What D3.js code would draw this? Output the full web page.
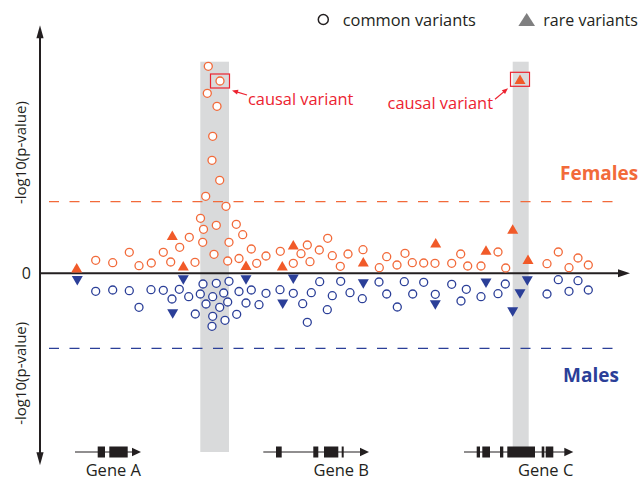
<!DOCTYPE html>
<html>
<head>
<meta charset="utf-8">
<script src="https://cdn.jsdelivr.net/npm/d3@7"></script>
<style>
  body { margin: 0; background: #fff; }
  text { font-family: "Open Sans", sans-serif; }
</style>
</head>
<body>
<div id="container"></div>
<script>
// [position (kb), -log10(p)]
const femalesCommon = [
  [168.3, 20.7], [167.3, 18.0], [177, 16.7], [172.7, 13.7], [172, 11.3], [179.7, 9.3],
  [165.7, 7.7], [186, 6.7], [160.5, 5.5], [176.3, 4.8], [196.3, 4.9], [163.5, 4.4],
  [149.3, 3.6], [162.7, 3.1], [189, 3.1], [139.7, 2.6], [89.3, 2.1], [123.3, 2.1],
  [174, 1.9], [55.7, 1.3], [72.7, 1.06], [130.7, 1.13], [111.3, 1.03], [99, 0.76],
  [155, 1.1], [187.7, 1.23], [199, 1.48], [202.7, 3.86], [211.3, 2.43], [216.7, 1.0],
  [226, 1.73], [240.3, 2.2], [253.3, 1.0], [261, 1.96], [267.3, 2.83], [270, 1.16],
  [279.3, 2.33], [287.7, 3.5], [292.3, 1.76], [300.3, 0.7], [308, 1.93], [323, 2.36],
  [339.3, 0.56], [346.7, 1.66], [357, 0.83], [365, 2.0], [372.3, 1.06], [383.7, 1.03],
  [395, 1.0], [411.7, 1.0], [420.7, 1.93], [427.7, 0.73], [441, 0.73], [458, 2.13],
  [465.7, 0.53], [507, 0.96], [518.3, 2.13], [529, 0.56], [538, 1.53], [548.3, 0.83]
];
const femalesRare = [
  [36.7, 0.56], [132.3, 3.8], [143.3, 0.76], [206, 0.8], [242.3, 0.76], [253.3, 2.86],
  [323.3, 1.16], [395.7, 3.06], [446, 2.33], [472.7, 4.43], [488, 1.4]
];
const malesCommon = [
  [55.7, 1.8], [72.7, 1.67], [89.3, 1.74], [111, 1.64], [123.3, 1.7], [139.3, 1.6],
  [132, 2.57], [99, 3.4], [148.7, 2.34], [155.3, 4.07], [163, 1.07], [160.3, 2.07],
  [176.3, 1.0], [189, 0.8], [172.7, 2.34], [183.7, 1.97], [187.7, 2.87], [166, 3.07],
  [179.7, 3.4], [172.7, 4.3], [185, 4.7], [172, 5.3], [196.7, 4.1], [199, 1.82],
  [211.3, 1.67], [206, 2.97], [219, 3.14], [226, 2.0], [240, 1.64], [253.3, 2.0],
  [262.7, 3.04], [271.3, 1.94], [267.3, 4.9], [279.7, 0.84], [287.3, 3.64], [292.3, 2.24],
  [300.7, 0.8], [310, 1.94], [322.3, 2.54], [339, 0.87], [346.7, 2.07], [357.3, 3.37],
  [364.3, 0.84], [372.7, 2.07], [383.7, 0.9], [395.3, 2.1], [411.7, 1.1], [421, 2.77],
  [426.3, 1.6], [441, 2.34], [458, 2.04], [465.3, 1.07], [507, 2.07], [518.3, 0.64],
  [529, 1.8], [538, 0.74], [548.3, 1.67]
];
const malesRare = [
  [37.3, 0.74], [143.3, 0.67], [132.7, 4.07], [206, 0.67], [253.3, 0.6], [242.7, 3.1],
  [323.3, 1.07], [395.3, 3.17], [446, 1.0], [480, 2.07], [487.3, 0.77], [472.7, 3.87]
];
// causal variants (females)
const causalCommon = [180, 19.23];
const causalRare = [480, 19.4];

const femaleThreshold = 7.16;
const maleThreshold = 7.5;

// highlighted regions [start, end] kb
const regions = [[160.3, 189], [472.7, 488.7]];

// genes: span [start, end], exons
const geneNames = ["Gene A", "Gene B", "Gene C"];
const geneSpans = [[35, 101], [223.3, 329], [424, 533.3]];
const geneExons = [
  [[57.7, 65], [69.3, 87.7]],
  [[236, 241.7], [273.3, 278.3], [284, 298.3], [301.7, 303.7]],
  [[436.7, 440], [442.3, 450], [460, 463.3], [467.3, 495], [501.7, 504.3], [505.7, 513.3]]
];

const w = 639;
const h = 481;
const orange = "#f26a3a";
const orangeFill = "#f15a29";
const blue = "#2b3f98";
const red = "#ec2330";
const ink = "#231f20";

const xScale = d3.scaleLinear().domain([0, 590]).range([40, 630]);
const yScale = d3.scaleLinear().domain([-19.2, 24.8]).range([465.3, 25.3]);

const svg = d3.select("#container")
  .append("svg")
  .attr("width", w)
  .attr("height", h);

function tri(cx, cy, up, hw = 5.5, th = 9.5) {
  const s = up ? 1 : -1;
  return `M${cx},${cy - s * th / 2}L${cx + hw},${cy + s * th / 2}L${cx - hw},${cy + s * th / 2}Z`;
}

// grey bands
svg.selectAll("rect.band")
  .data(regions)
  .enter()
  .append("rect")
  .attr("class", "band")
  .attr("x", d => xScale(d[0]))
  .attr("width", d => xScale(d[1]) - xScale(d[0]))
  .attr("y", 61.7)
  .attr("height", 452 - 61.7)
  .attr("fill", "#d9dadb");

// threshold lines
svg.append("line")
  .attr("x1", xScale(9)).attr("x2", xScale(573))
  .attr("y1", yScale(femaleThreshold)).attr("y2", yScale(femaleThreshold))
  .attr("stroke", orange).attr("stroke-width", 1.2)
  .attr("stroke-dasharray", "10,10.5");
svg.append("line")
  .attr("x1", xScale(9)).attr("x2", xScale(573))
  .attr("y1", yScale(-maleThreshold)).attr("y2", yScale(-maleThreshold))
  .attr("stroke", blue).attr("stroke-width", 1.2)
  .attr("stroke-dasharray", "10,10.5");

// axes
const x0 = xScale(0);
const yTop = yScale(24.8);
const yBot = yScale(-19.2);
const y0 = yScale(0);
svg.append("line")
  .attr("x1", x0).attr("x2", x0)
  .attr("y1", yTop + 8).attr("y2", yBot - 8)
  .attr("stroke", ink).attr("stroke-width", 2);
svg.append("path").attr("d", `M${x0},${yTop}L${x0 + 3.6},${yTop + 13}L${x0 - 3.6},${yTop + 13}Z`).attr("fill", ink);
svg.append("path").attr("d", `M${x0},${yBot}L${x0 + 3.6},${yBot - 13}L${x0 - 3.6},${yBot - 13}Z`).attr("fill", ink);
svg.append("line")
  .attr("x1", x0).attr("x2", xScale(580))
  .attr("y1", y0).attr("y2", y0)
  .attr("stroke", ink).attr("stroke-width", 2);
svg.append("path").attr("d", `M${xScale(590)},${y0}L${xScale(578)},${y0 - 4}L${xScale(578)},${y0 + 4}Z`).attr("fill", ink);

const yAxis = svg.append("g")
  .attr("transform", `translate(${x0 - 6},0)`)
  .call(d3.axisLeft(yScale).tickValues([0]).tickSize(0));
yAxis.select(".domain").remove();
yAxis.selectAll("text")
  .attr("font-family", "Open Sans, sans-serif")
  .attr("font-size", 16)
  .attr("fill", ink);

svg.selectAll("text.ylab")
  .data([12.07, -10.0])
  .enter()
  .append("text")
  .attr("class", "ylab")
  .attr("transform", d => `translate(26,${yScale(d)}) rotate(-90)`)
  .attr("text-anchor", "middle")
  .attr("font-size", 15)
  .attr("fill", ink)
  .text("-log10(p-value)");

// points
svg.selectAll("circle.fc")
  .data(femalesCommon.concat([causalCommon]))
  .enter()
  .append("circle")
  .attr("class", "fc")
  .attr("cx", d => xScale(d[0]))
  .attr("cy", d => yScale(d[1]))
  .attr("r", 4)
  .attr("fill", "#fff")
  .attr("stroke", orange)
  .attr("stroke-width", 1.3);

svg.selectAll("circle.mc")
  .data(malesCommon)
  .enter()
  .append("circle")
  .attr("class", "mc")
  .attr("cx", d => xScale(d[0]))
  .attr("cy", d => yScale(-d[1]))
  .attr("r", 4)
  .attr("fill", "#fff")
  .attr("stroke", blue)
  .attr("stroke-width", 1.3);

svg.selectAll("path.fr")
  .data(femalesRare.concat([causalRare]))
  .enter()
  .append("path")
  .attr("class", "fr")
  .attr("d", d => tri(xScale(d[0]), yScale(d[1]), true))
  .attr("fill", orangeFill);

svg.selectAll("path.mr")
  .data(malesRare)
  .enter()
  .append("path")
  .attr("class", "mr")
  .attr("d", d => tri(xScale(d[0]), yScale(-d[1]), false))
  .attr("fill", blue);

// causal annotations
[causalCommon, causalRare].forEach((c, i) => {
  const cx = xScale(c[0]);
  const cy = yScale(c[1]);
  svg.append("rect")
    .attr("x", cx - 9.5).attr("y", cy - 7)
    .attr("width", 19).attr("height", 14)
    .attr("fill", "none")
    .attr("stroke", red).attr("stroke-width", 1.2);
  const tail = i === 0 ? [cx + 27, cy + 14] : [cx - 25, cy + 20];
  const head = i === 0 ? [cx + 12, cy + 9.5] : [cx - 12, cy + 9];
  const ang = Math.atan2(head[1] - tail[1], head[0] - tail[0]);
  svg.append("line")
    .attr("x1", tail[0]).attr("y1", tail[1])
    .attr("x2", head[0] - 4 * Math.cos(ang)).attr("y2", head[1] - 4 * Math.sin(ang))
    .attr("stroke", red).attr("stroke-width", 1.2);
  const p1 = [head[0] - 6 * Math.cos(ang) + 2.5 * Math.sin(ang), head[1] - 6 * Math.sin(ang) - 2.5 * Math.cos(ang)];
  const p2 = [head[0] - 6 * Math.cos(ang) - 2.5 * Math.sin(ang), head[1] - 6 * Math.sin(ang) + 2.5 * Math.cos(ang)];
  svg.append("path")
    .attr("d", `M${head[0]},${head[1]}L${p1[0]},${p1[1]}L${p2[0]},${p2[1]}Z`)
    .attr("fill", red);
  svg.append("text")
    .attr("x", i === 0 ? cx + 28 : cx - 27)
    .attr("y", i === 0 ? cy + 24 : cy + 30)
    .attr("text-anchor", i === 0 ? "start" : "end")
    .attr("font-size", 16.4)
    .attr("fill", red)
    .text("causal variant");
});

// sex labels
svg.append("text")
  .attr("x", 560).attr("y", 180)
  .attr("font-family", "Liberation Sans, Arial, sans-serif")
  .attr("font-weight", "bold")
  .attr("font-size", 19)
  .attr("fill", orange)
  .text("Females");
svg.append("text")
  .attr("x", 563).attr("y", 382)
  .attr("font-family", "Liberation Sans, Arial, sans-serif")
  .attr("font-weight", "bold")
  .attr("font-size", 19)
  .attr("fill", blue)
  .text("Males");

// genes
const gy = 452;
const genes = svg.selectAll("g.gene")
  .data(geneNames.map((n, i) => ({ name: n, span: geneSpans[i], exons: geneExons[i] })))
  .enter()
  .append("g")
  .attr("class", "gene");
genes.append("line")
  .attr("x1", d => xScale(d.span[0]))
  .attr("x2", d => xScale(d.span[1]) - 6)
  .attr("y1", gy).attr("y2", gy)
  .attr("stroke", ink).attr("stroke-width", 1.2);
genes.append("path")
  .attr("d", d => {
    const t = xScale(d.span[1]);
    return `M${t},${gy}L${t - 9},${gy - 4.3}L${t - 9},${gy + 4.3}Z`;
  })
  .attr("fill", ink);
genes.selectAll("rect")
  .data(d => d.exons)
  .enter()
  .append("rect")
  .attr("x", e => xScale(e[0]))
  .attr("width", e => xScale(e[1]) - xScale(e[0]))
  .attr("y", gy - 5.5)
  .attr("height", 11)
  .attr("fill", ink);
genes.append("text")
  .attr("x", d => xScale(d.span[1]))
  .attr("y", 476)
  .attr("text-anchor", "end")
  .attr("font-size", 16.5)
  .attr("fill", ink)
  .text(d => d.name);

// legend
svg.append("circle")
  .attr("cx", 323.3).attr("cy", 19.5).attr("r", 5)
  .attr("fill", "none").attr("stroke", ink).attr("stroke-width", 1.5);
svg.append("text")
  .attr("x", 342.7).attr("y", 26)
  .attr("font-size", 16.4).attr("fill", ink)
  .text("common variants");
svg.append("path")
  .attr("d", tri(526.7, 19.5, true, 8.3, 13))
  .attr("fill", "#7f7f80");
svg.append("text")
  .attr("x", 543.3).attr("y", 26)
  .attr("font-size", 16).attr("fill", ink)
  .text("rare variants");
</script>
</body>
</html>
